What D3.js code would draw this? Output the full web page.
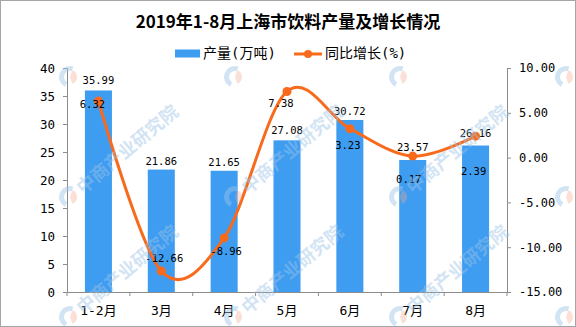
<!DOCTYPE html>
<html>
<head>
<meta charset="utf-8">
<script src="https://cdn.jsdelivr.net/npm/d3@7"></script>
<style>
  html, body { margin: 0; padding: 0; background: #fff; }
  svg { display: block; }
  text { font-family: "DejaVu Sans Mono", "Noto Sans CJK SC", monospace; }
</style>
</head>
<body>
<svg id="chart" width="576" height="327"></svg>
<script>
// ---- data ----
const categories = ["1-2月", "3月", "4月", "5月", "6月", "7月", "8月"];
const output = [35.99, 21.86, 21.65, 27.08, 30.72, 23.57, 26.16];      // 产量(万吨)
const growth = [6.32, -12.66, -8.96, 7.38, 3.23, 0.17, 2.39];          // 同比增长(%)
const leftTicks = [0, 5, 10, 15, 20, 25, 30, 35, 40];
const rightTicks = [-15, -10, -5, 0, 5, 10];
const title = "2019年1-8月上海市饮料产量及增长情况";
const legendLabels = ["产量(万吨)", "同比增长(%)"];
const watermarkText = "中商产业研究院";

// label placement tweaks (style)
const growthLabelDx = [-6, 3, 2, -6, -2, -4, -2];
const growthLabelDy = [4, -12, 14, 13, 17, 24, 36];
const barLabelDy = [-9, -8, -8, -9, -8, -12, -12];

const barColor = "#3F9DF1";
const lineColor = "#F86A1C";
const axisColor = "#8c8c8c";
const numFont = "'DejaVu Sans Mono', 'Noto Sans CJK SC', monospace";

const svg = d3.select("#chart");

// frame
svg.append("rect").attr("x", 0.5).attr("y", 0.5).attr("width", 575).attr("height", 326)
  .attr("fill", "#fff").attr("stroke", "#a6a6a6");

const x = d3.scaleBand().domain(categories).range([67, 507]).padding(0);
const yL = d3.scaleLinear().domain([0, 40]).range([292, 68]);
const yR = d3.scaleLinear().domain([-15, 10]).range([292, 68]);

// title
svg.append("text").attr("x", 288).attr("y", 23).attr("text-anchor", "middle")
  .attr("dominant-baseline", "middle")
  .style("font-family", "'Noto Sans CJK SC', sans-serif")
  .style("font-size", "17px").style("font-weight", "bold").attr("fill", "#000")
  .text(title);

// legend
const lg = svg.append("g");
lg.append("rect").attr("x", 175).attr("y", 49.5).attr("width", 25).attr("height", 8).attr("fill", barColor);
lg.append("text").attr("x", 203).attr("y", 54).attr("dominant-baseline", "middle")
  .style("font-size", "14px").attr("fill", "#000").text(legendLabels[0]);
lg.append("line").attr("x1", 294).attr("x2", 322).attr("y1", 54).attr("y2", 54)
  .attr("stroke", lineColor).attr("stroke-width", 3);
lg.append("circle").attr("cx", 308).attr("cy", 54).attr("r", 4).attr("fill", lineColor);
lg.append("text").attr("x", 325).attr("y", 54).attr("dominant-baseline", "middle")
  .style("font-size", "14px").attr("fill", "#000").text(legendLabels[1]);

// bars
const bw = x.bandwidth() * 0.43;
svg.append("g").selectAll("rect").data(categories).join("rect")
  .attr("x", (d) => x(d) + (x.bandwidth() - bw) / 2)
  .attr("y", (d, i) => yL(output[i]))
  .attr("width", bw)
  .attr("height", (d, i) => yL(0) - yL(output[i]))
  .attr("fill", barColor);

// axes
function styleAxis(g) {
  g.selectAll("path.domain").attr("stroke", axisColor);
  g.selectAll(".tick line").attr("stroke", axisColor);
  g.selectAll(".tick text").attr("fill", "#000").style("font-family", numFont);
}
const gL = svg.append("g").attr("transform", "translate(67,0)")
  .call(d3.axisLeft(yL).tickValues(leftTicks).tickSize(4).tickSizeOuter(4).tickPadding(8))
  .call(styleAxis);
gL.selectAll(".tick text").style("font-size", "12.5px");

const gR = svg.append("g").attr("transform", "translate(507,0)")
  .call(d3.axisRight(yR).tickValues(rightTicks).tickSize(4).tickSizeOuter(4).tickPadding(8)
    .tickFormat((d) => d.toFixed(2)))
  .call(styleAxis);
gR.selectAll(".tick text").style("font-size", "12px");

const gB = svg.append("g").attr("transform", "translate(0,292)")
  .call(d3.axisBottom(x).tickSize(0).tickSizeOuter(0).tickPadding(14))
  .call(styleAxis);
gB.selectAll(".tick text").style("font-size", "13px");
// boundary ticks
const bounds = categories.map((c) => x(c)).concat([x.range()[1]]);
gB.selectAll("line.bt").data(bounds).join("line").attr("class", "bt")
  .attr("x1", (d) => d).attr("x2", (d) => d).attr("y1", 0).attr("y2", 4)
  .attr("stroke", axisColor);

// bar labels
svg.append("g").selectAll("text").data(categories).join("text")
  .attr("x", (d) => x(d) + x.bandwidth() / 2)
  .attr("y", (d, i) => yL(output[i]) + barLabelDy[i])
  .attr("text-anchor", "middle").attr("dominant-baseline", "middle")
  .style("font-size", "10.5px").attr("fill", "#000")
  .text((d, i) => output[i].toFixed(2));

// line
const pts = categories.map((c, i) => [x(c) + x.bandwidth() / 2, yR(growth[i])]);
svg.append("path").datum(pts)
  .attr("d", d3.line().curve(d3.curveCardinal.tension(0)))
  .attr("fill", "none").attr("stroke", lineColor).attr("stroke-width", 3);
svg.append("g").selectAll("circle").data(pts).join("circle")
  .attr("cx", (d) => d[0]).attr("cy", (d) => d[1]).attr("r", 4.5).attr("fill", lineColor);

// line labels
svg.append("g").selectAll("text").data(pts).join("text")
  .attr("x", (d, i) => d[0] + growthLabelDx[i])
  .attr("y", (d, i) => d[1] + growthLabelDy[i])
  .attr("text-anchor", "middle").attr("dominant-baseline", "middle")
  .style("font-size", "10.5px").attr("fill", "#000")
  .text((d, i) => growth[i].toFixed(2));

// watermark overlay (tiled, faint); text only where it fits inside the picture
const wmX = [-95, 70, 235, 400, 566];
const wmY = [77, 197, 317];
const wm = svg.append("g").attr("pointer-events", "none");
wmY.forEach((wy, r) => wmX.forEach((wx, c) => {
  const g = wm.append("g").attr("transform", `translate(${wx},${wy})`);
  g.append("path").attr("d", d3.arc()({innerRadius: 6, outerRadius: 11, startAngle: Math.PI * 0.15, endAngle: Math.PI * 1.1}))
    .attr("fill", "#9cc4e6").attr("opacity", 0.45).attr("transform", "rotate(180)");
  g.append("path").attr("d", d3.arc()({innerRadius: 0, outerRadius: 7, startAngle: Math.PI * 0.1, endAngle: Math.PI * 0.9}))
    .attr("fill", "#f2a58a").attr("opacity", 0.35);
  if (r > 0 && c > 0 && c < wmX.length - 1) {
    g.append("text").attr("transform", "translate(10,-6) rotate(-40)")
      .attr("dominant-baseline", "middle")
      .style("font-family", "'Noto Sans CJK SC', sans-serif")
      .style("font-size", "18px").style("font-weight", "bold")
      .attr("fill", "#9cc4e6").attr("opacity", 0.45)
      .text(watermarkText);
  }
}));
</script>
</body>
</html>
